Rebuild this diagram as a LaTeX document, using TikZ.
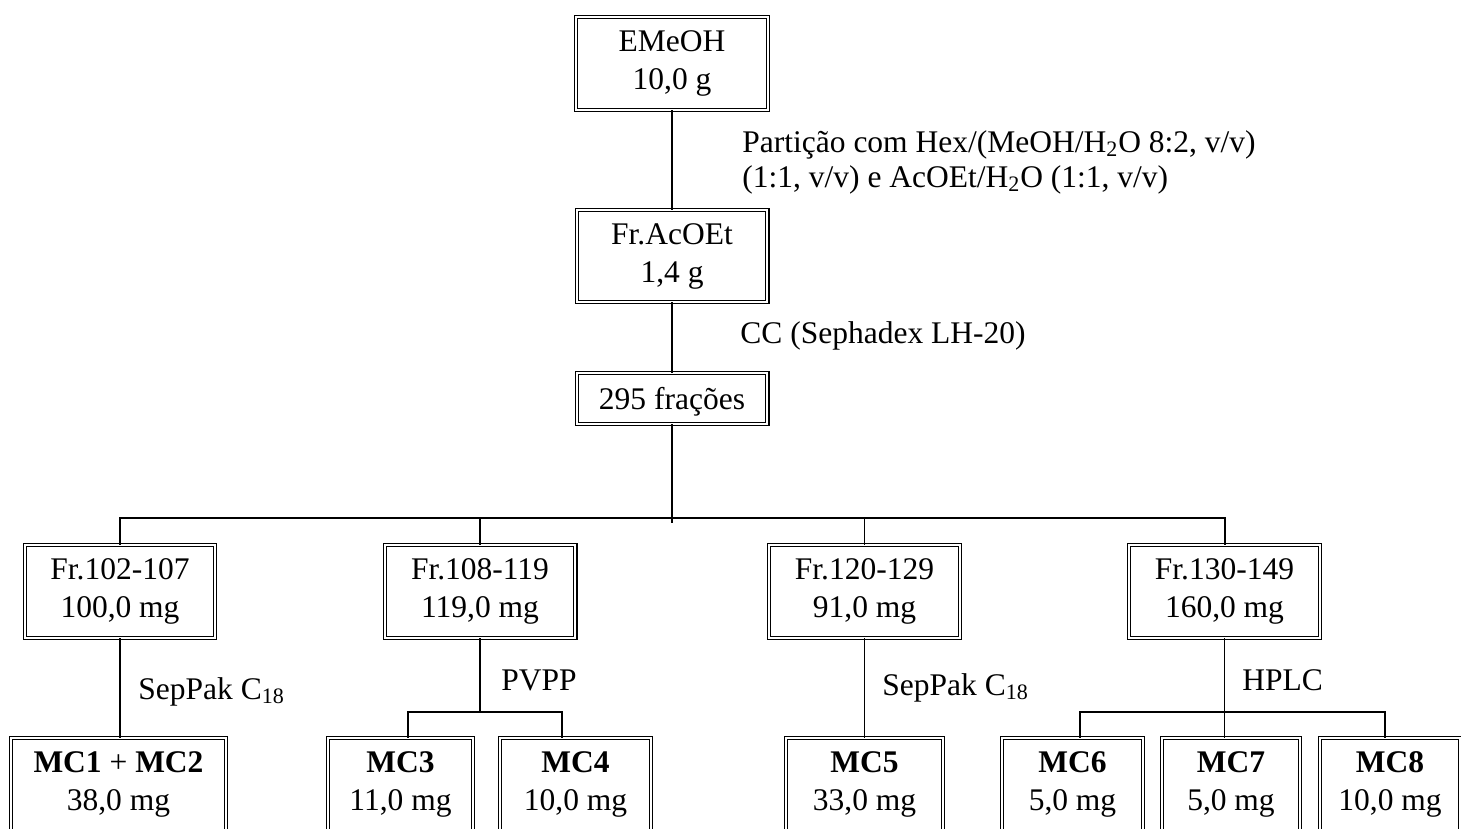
\documentclass[tikz,border=0pt]{standalone}
\usepackage{fontspec}
\setmainfont{Liberation Serif}
\begin{document}
\begin{tikzpicture}[x=0.5pt,y=-0.5pt,
  txt/.style={font=\fontsize{15.75pt}{19pt}\selectfont},
  box/.style={txt, draw, double, line width=0.55pt, double distance=1.1pt, align=center, inner sep=0pt,
    execute at begin node={\rule{0pt}{14.5pt}}},
  bsz/.style 2 args={minimum width={#1*0.5pt-2.2pt}, minimum height={#2*0.5pt-2.2pt}},
  lbl/.style={txt, inner sep=0pt, anchor=base west},
  conn/.style={line width=0.8pt},
  mainconn/.style={line width=1pt}]
\useasboundingbox (0,0) rectangle (1461,829);
\clip (0,0) rectangle (1461,829);
% boxes
\node[box, bsz={196}{97}] (emeoh) at (672,63.5) {EMeOH\\10,0 g};
\node[box, bsz={195}{96}] (acoet) at (672,256) {Fr.AcOEt\\1,4 g};
\node[box, bsz={195}{55}] (f295) at (672,398.5) {295 frações};
\node[box, bsz={194}{97}] (fa) at (120,591.5) {Fr.102-107\\100,0 mg};
\node[box, bsz={195}{97}] (fb) at (480,591.5) {Fr.108-119\\119,0 mg};
\node[box, bsz={195}{97}] (fc) at (864.5,591.5) {Fr.120-129\\91,0 mg};
\node[box, bsz={195}{97}] (fd) at (1224.5,591.5) {Fr.130-149\\160,0 mg};
\node[box, bsz={219}{97}] (mc12) at (118.5,784.5) {\textbf{MC1} + \textbf{MC2}\\38,0 mg};
\node[box, bsz={149}{97}] (mc3) at (400.5,784.5) {\textbf{MC3}\\11,0 mg};
\node[box, bsz={155}{97}] (mc4) at (575.5,784.5) {\textbf{MC4}\\10,0 mg};
\node[box, bsz={161}{97}] (mc5) at (864.5,784.5) {\textbf{MC5}\\33,0 mg};
\node[box, bsz={145}{97}] (mc6) at (1072.5,784.5) {\textbf{MC6}\\5,0 mg};
\node[box, bsz={142}{97}] (mc7) at (1231,784.5) {\textbf{MC7}\\5,0 mg};
\node[box, bsz={144}{97}] (mc8) at (1390,784.5) {\textbf{MC8}\\10,0 mg};
% coordinates
\coordinate (br) at (672,518);
\coordinate (brend) at (672,523);
\coordinate (sb1) at (408,712);
\coordinate (sb2) at (562,712);
\coordinate (hb1) at (1080,712);
\coordinate (hb2) at (1385,712);
% connectors
\draw[conn] (emeoh.south) -- (acoet.north);
\draw[conn] (acoet.south) -- (f295.north);
\draw[conn] (f295.south) -- (brend);
\draw[mainconn] (fa.north) -- (fa.north |- br) -- (fd.north |- br) -- (fd.north);
\draw[conn] (fb.north) -- (fb.north |- br);
\draw[conn] (fc.north) -- (fc.north |- br);
\draw[conn] (fa.south) -- (fa.south |- mc12.north);
\draw[conn] (fb.south) -- (fb.south |- sb1);
\draw[conn] (mc3.north -| sb1) -- (sb1) -- (sb2) -- (mc4.north -| sb2);
\draw[conn] (fc.south) -- (fc.south |- mc5.north);
\draw[conn] (fd.south) -- (fd.south |- mc7.north);
\draw[conn] (mc6.north -| hb1) -- (hb1) -- (hb2) -- (mc8.north -| hb2);
% labels
\node[lbl] (l1a) at (742,152) {Partição com Hex/(MeOH/H\textsubscript{2}O 8:2, v/v)};
\node[lbl] (l1b) at (742,187) {(1:1, v/v) e AcOEt/H\textsubscript{2}O (1:1, v/v)};
\node[lbl] (l2) at (740,343) {CC (Sephadex LH-20)};
\node[lbl] (l3) at (138,699) {SepPak C\textsubscript{18}};
\node[lbl] (l4) at (501,690) {PVPP};
\node[lbl] (l5) at (882,695) {SepPak C\textsubscript{18}};
\node[lbl] (l6) at (1242,690) {HPLC};
\end{tikzpicture}
\end{document}
